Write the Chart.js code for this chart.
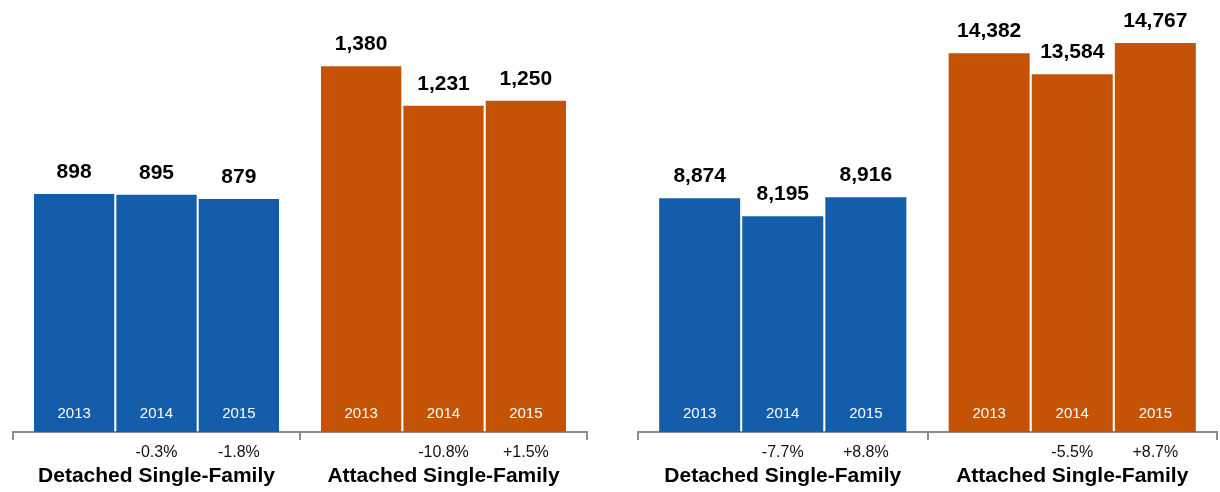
<!DOCTYPE html>
<html>
<head>
<meta charset="utf-8">
<script src="https://cdn.jsdelivr.net/npm/chart.js@4"></script>
<style>
  html, body { margin: 0; padding: 0; background: #fff; }
  #wrap { width: 1220px; height: 492px; display: flex; }
  .panel { position: relative; width: 610px; height: 492px; }
</style>
</head>
<body>
<div id="wrap">
  <div class="panel"><canvas id="leftChart"></canvas></div>
  <div class="panel"><canvas id="rightChart"></canvas></div>
</div>
<script>
const categories = ['Detached Single-Family', 'Attached Single-Family'];
const years = ['2013', '2014', '2015'];

// left panel
const leftDetached = [898, 895, 879];
const leftAttached = [1380, 1231, 1250];
const leftDetachedChange = ['', '-0.3%', '-1.8%'];
const leftAttachedChange = ['', '-10.8%', '+1.5%'];

// right panel
const rightDetached = [8874, 8195, 8916];
const rightAttached = [14382, 13584, 14767];
const rightDetachedChange = ['', '-7.7%', '+8.8%'];
const rightAttachedChange = ['', '-5.5%', '+8.7%'];

const BLUE = '#135DAA';
const ORANGE = '#C45306';
const AXIS = '#8c8c8c';
const FONT = '"Liberation Sans", Arial, Helvetica, sans-serif';

// draws value labels, year labels in the bars, % change and group names
const labelPlugin = {
  id: 'labels',
  afterDatasetsDraw(chart, args, opts) {
    const ctx = chart.ctx;
    const xAxis = chart.scales.x;
    const bottom = chart.chartArea.bottom;
    ctx.save();
    ctx.textAlign = 'center';
    ctx.textBaseline = 'middle';
    chart.data.datasets.forEach((ds, i) => {
      const meta = chart.getDatasetMeta(i);
      meta.data.forEach((bar, j) => {
        ctx.fillStyle = '#000';
        ctx.font = 'bold 21px ' + FONT;
        ctx.fillText(ds.data[j].toLocaleString('en-US'), bar.x, bar.y - 22);
        ctx.fillStyle = '#fff';
        ctx.font = '15px ' + FONT;
        ctx.fillText(ds.label, bar.x, bottom - 18);
        const ch = opts.changes[j][i];
        if (ch) {
          ctx.fillStyle = '#111';
          ctx.font = '16px ' + FONT;
          ctx.fillText(ch, bar.x, bottom + 21);
        }
      });
    });
    ctx.fillStyle = '#000';
    ctx.font = 'bold 21px ' + FONT;
    chart.data.labels.forEach((lab, j) => {
      ctx.fillText(lab, xAxis.getPixelForValue(j), bottom + 44);
    });
    ctx.restore();
  }
};

function makeChart(id, detached, attached, detChange, attChange, yMax, padLeft, padRight) {
  const datasets = years.map((yr, i) => ({
    label: yr,
    data: [detached[i], attached[i]],
    backgroundColor: [BLUE, ORANGE],
    borderWidth: 0,
    barPercentage: 0.975,
    categoryPercentage: 0.861
  }));
  return new Chart(document.getElementById(id), {
    type: 'bar',
    data: { labels: categories, datasets: datasets },
    plugins: [labelPlugin],
    options: {
      responsive: true,
      maintainAspectRatio: false,
      animation: false,
      layout: { padding: { left: padLeft, right: padRight, top: 0, bottom: 52 } },
      plugins: {
        legend: { display: false },
        tooltip: { enabled: false },
        labels: { changes: [detChange, attChange] }
      },
      scales: {
        x: {
          offset: true,
          ticks: { display: false },
          grid: {
            offset: true,
            drawOnChartArea: false,
            drawTicks: true,
            tickLength: 8,
            color: AXIS,
            lineWidth: 2
          },
          border: { color: AXIS, width: 2 }
        },
        y: {
          display: false,
          min: 0,
          max: yMax
        }
      }
    }
  });
}

makeChart('leftChart', leftDetached, leftAttached, leftDetachedChange, leftAttachedChange, 1630, 13, 23);
makeChart('rightChart', rightDetached, rightAttached, rightDetachedChange, rightAttachedChange, 16400, 28, 3);
</script>
</body>
</html>
